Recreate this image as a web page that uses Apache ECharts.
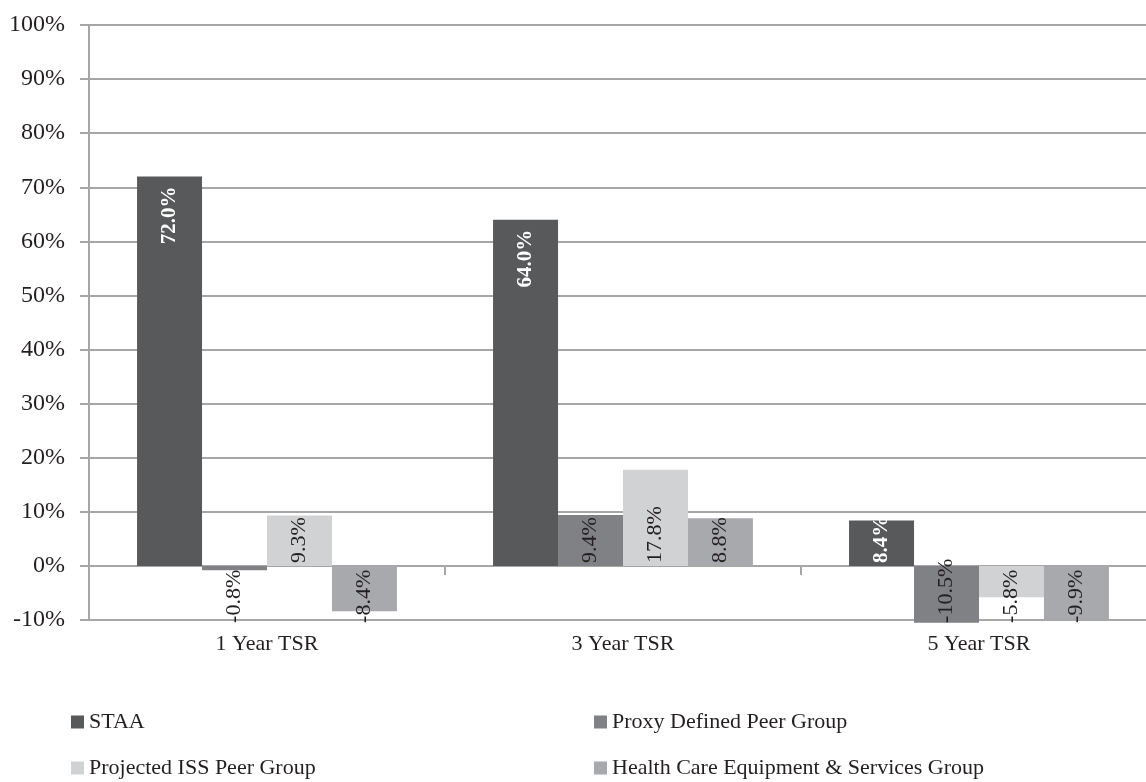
<!DOCTYPE html>
<html>
<head>
<meta charset="utf-8">
<script src="https://cdn.jsdelivr.net/npm/echarts@6/dist/echarts.min.js"></script>
<style>
  html, body { margin: 0; padding: 0; background: #ffffff; }
  #chart { width: 1146px; height: 782px; }
</style>
</head>
<body>
<div id="chart"></div>
<script>
// Total shareholder return by period
const categories = ['1 Year TSR', '3 Year TSR', '5 Year TSR'];
const seriesNames = ['STAA', 'Proxy Defined Peer Group', 'Projected ISS Peer Group', 'Health Care Equipment & Services Group'];
const staa = [72.0, 64.0, 8.4];
const proxyPeers = [-0.8, 9.4, -10.5];
const issPeers = [9.3, 17.8, -5.8];
const healthCare = [-8.4, 8.8, -9.9];
const yMin = -10;
const yMax = 100;
const yStep = 10;

const colors = ['#58595b', '#808184', '#d1d2d4', '#a7a9ac'];
const FONT = '"Liberation Serif", "Times New Roman", serif';
const TEXT = '#231f20';
const GRID_LINE = '#a6a6a6';

const chart = echarts.init(document.getElementById('chart'), null, { renderer: 'canvas' });

function fmt(v) { return v.toFixed(1) + '%'; }

// Rotated value labels: lead series labels sit at the top of tall bars in white bold,
// others read upward from the zero line; negatives hang down from the zero line.
function labelFor(value, isLead, negOffset) {
  const base = {
    show: true,
    rotate: 90,
    verticalAlign: 'middle',
    fontFamily: FONT,
    fontSize: isLead ? 21 : 22,
    color: isLead ? '#ffffff' : TEXT,
    fontWeight: isLead ? 'bold' : 'normal',
    formatter: () => fmt(value)
  };
  if (isLead && value >= 30) {
    return Object.assign(base, { position: 'insideTop', distance: 10, align: 'right' });
  }
  if (value >= 0) {
    return Object.assign(base, { position: 'insideBottom', distance: 3, align: 'left' });
  }
  return Object.assign(base, { position: ['50%', negOffset], align: 'left' });
}

function buildSeries(negOffset) {
  const lists = [staa, proxyPeers, issPeers, healthCare];
  return lists.map((vals, i) => ({
    name: seriesNames[i],
    type: 'bar',
    xAxisIndex: 0,
    yAxisIndex: 0,
    barGap: '0%',
    barCategoryGap: '27%',
    clip: false,
    itemStyle: { color: colors[i] },
    data: vals.map(v => ({ value: v, label: labelFor(v, i === 0, negOffset) }))
  }));
}

const legendCommon = {
  orient: 'vertical',
  top: 711,
  padding: 0,
  itemWidth: 13,
  itemHeight: 13,
  itemGap: 24,
  icon: 'rect',
  selectedMode: false,
  textStyle: { fontFamily: FONT, fontSize: 22, color: TEXT, padding: [0, 0, 0, 0] }
};

const option = {
  animation: false,
  backgroundColor: '#ffffff',
  textStyle: { fontFamily: FONT },
  grid: { left: 89, top: 25, right: -11, bottom: 162, outerBoundsMode: 'none' },
  legend: [
    Object.assign({}, legendCommon, { left: 71, data: [seriesNames[0], seriesNames[2]] }),
    Object.assign({}, legendCommon, { left: 594, data: [seriesNames[1], seriesNames[3]] })
  ],
  xAxis: [
    {
      type: 'category',
      data: categories,
      position: 'bottom',
      axisLine: { show: false, onZero: false },
      axisTick: { show: false },
      axisLabel: { margin: 13, fontFamily: FONT, fontSize: 22, color: TEXT },
      splitLine: { show: false }
    },
    {
      type: 'category',
      data: categories,
      position: 'bottom',
      axisLine: { show: true, onZero: true, lineStyle: { color: GRID_LINE, width: 2 } },
      axisTick: { show: true, length: 9, lineStyle: { color: GRID_LINE, width: 2 } },
      axisLabel: { show: false },
      splitLine: { show: false }
    }
  ],
  yAxis: {
    type: 'value',
    min: yMin,
    max: yMax,
    interval: yStep,
    axisLine: { show: true, lineStyle: { color: GRID_LINE, width: 2 } },
    axisTick: { show: true, length: 9, lineStyle: { color: GRID_LINE, width: 2 } },
    axisLabel: { margin: 24, fontFamily: FONT, fontSize: 24, color: TEXT, formatter: '{value}%' },
    splitLine: { show: true, lineStyle: { color: GRID_LINE, width: 2 } }
  },
  series: buildSeries(60)
};

chart.setOption(option);

// Negative labels start just below the -10% gridline
const zeroPx = chart.convertToPixel({ yAxisIndex: 0 }, 0);
const floorPx = chart.convertToPixel({ yAxisIndex: 0 }, yMin);
chart.setOption({ series: buildSeries(Math.round(floorPx - zeroPx + 3)) });
</script>
</body>
</html>
